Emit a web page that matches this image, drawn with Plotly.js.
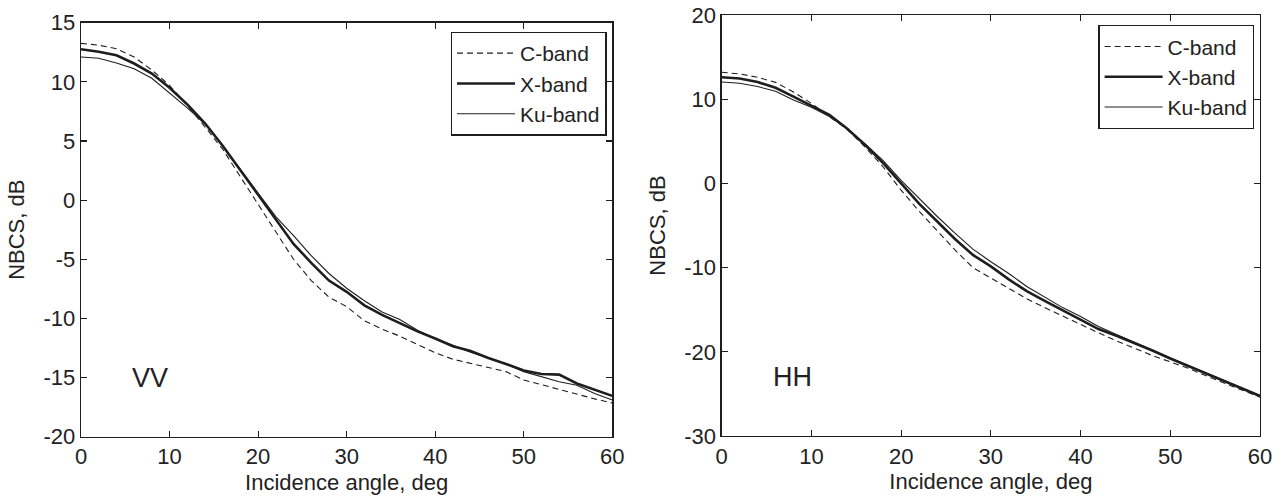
<!DOCTYPE html>
<html>
<head>
<meta charset="utf-8">
<script src="https://cdn.plot.ly/plotly-3.0.1.min.js"></script>
<style>html,body{margin:0;padding:0;background:#fff;}#chart{width:1283px;height:496px;}</style>
</head>
<body>
<div id="chart"></div>
<script>
// Incidence angles, deg
const angle = [0,2,4,6,8,10,12,14,16,18,20,22,24,26,28,30,32,34,36,38,40,42,44,46,48,50,52,54,56,58,60];

// VV polarisation, NBCS dB
const vvC  = [13.25,13.1,12.8,12.1,11.0,9.7,8.0,6.2,4.3,2.0,-0.4,-2.7,-5.0,-6.8,-8.2,-9.0,-10.2,-10.9,-11.5,-12.2,-12.9,-13.45,-13.8,-14.1,-14.5,-15.2,-15.6,-16.0,-16.45,-16.8,-17.15];
const vvX  = [12.75,12.55,12.25,11.55,10.7,9.5,8.1,6.5,4.6,2.5,0.5,-1.7,-3.7,-5.3,-6.8,-7.75,-8.9,-9.7,-10.4,-11.1,-11.7,-12.35,-12.75,-13.35,-13.85,-14.4,-14.7,-14.75,-15.5,-16.05,-16.55];
const vvKu = [12.1,12.0,11.6,11.1,10.3,9.05,7.8,6.45,4.6,2.6,0.6,-1.4,-3.0,-4.7,-6.2,-7.45,-8.5,-9.45,-10.1,-11.0,-11.7,-12.3,-12.85,-13.35,-13.85,-14.5,-14.9,-15.35,-15.65,-16.35,-16.9];

// HH polarisation, NBCS dB
const hhC  = [13.2,13.0,12.6,12.0,10.85,9.5,7.95,6.4,4.3,1.95,-0.8,-3.3,-5.6,-7.9,-10.0,-11.25,-12.55,-13.7,-14.75,-15.75,-16.8,-17.75,-18.7,-19.6,-20.45,-21.2,-21.95,-22.85,-23.7,-24.6,-25.4];
const hhX  = [12.6,12.45,12.05,11.35,10.3,9.2,8.15,6.5,4.55,2.4,0.0,-2.4,-4.5,-6.6,-8.5,-9.85,-11.4,-12.8,-13.95,-15.1,-16.2,-17.3,-18.1,-18.95,-19.85,-20.8,-21.7,-22.6,-23.5,-24.35,-25.25];
const hhKu = [12.05,11.9,11.5,10.95,9.9,9.05,7.95,6.5,4.7,2.7,0.35,-1.8,-3.9,-5.9,-7.8,-9.3,-10.7,-12.25,-13.5,-14.75,-15.8,-17.0,-17.95,-18.85,-19.8,-20.75,-21.65,-22.55,-23.45,-24.3,-25.2];

// Tick values and labels (hyphen minus as in the original)
const xTickVals = [0,10,20,30,40,50,60];
const xTickText = ['0','10','20','30','40','50','60'];
const vvTickVals = [-20,-15,-10,-5,0,5,10,15];
const vvTickText = ['-20','-15','-10','-5','0','5','10','15'];
const hhTickVals = [-30,-20,-10,0,10,20];
const hhTickText = ['-30','-20','-10','0','10','20'];

const bandNames = ['C-band','X-band','Ku-band'];
const panelLabels = ['VV','HH'];
const xTitle = 'Incidence angle, deg';
const yTitle = 'NBCS, dB';

const FONT = 'Arial, "Liberation Sans", sans-serif';
const INK = '#1e1e1e';
const TXT = '#222';
const FS = 22;
const styles = [
  {color: INK, width: 1.1, dash: '6px,4px'},
  {color: INK, width: 2.6, dash: 'solid'},
  {color: INK, width: 1.1, dash: 'solid'}
];

function mk(y, i, xa, ya, leg) {
  return {x: angle, y: y, type: 'scatter', mode: 'lines', name: bandNames[i],
          xaxis: xa, yaxis: ya, legend: leg, line: styles[i], hoverinfo: 'x+y'};
}

const data = [
  mk(vvC, 0, 'x', 'y', 'legend'), mk(vvX, 1, 'x', 'y', 'legend'), mk(vvKu, 2, 'x', 'y', 'legend'),
  mk(hhC, 0, 'x2', 'y2', 'legend2'), mk(hhX, 1, 'x2', 'y2', 'legend2'), mk(hhKu, 2, 'x2', 'y2', 'legend2')
];

const W = 1283, H = 496;
function axBase() {
  return {
    showline: true, linecolor: INK, linewidth: 1.3, mirror: 'ticks',
    ticks: 'inside', ticklen: 6, tickwidth: 1.1, tickcolor: INK,
    showgrid: false, zeroline: false, tickmode: 'array',
    tickfont: {family: FONT, size: FS, color: TXT}
  };
}
function ttl(t, so) { return {text: t, font: {family: FONT, size: FS, color: TXT}, standoff: so}; }

const xa1 = Object.assign(axBase(), {domain: [81/W, 612.3/W], range: [0, 60], anchor: 'y',
  tickvals: xTickVals, ticktext: xTickText, title: ttl(xTitle, 6)});
const ya1 = Object.assign(axBase(), {domain: [(H-436.7)/H, (H-22.7)/H], range: [-20, 15], anchor: 'x',
  tickvals: vvTickVals, ticktext: vvTickText, title: ttl(yTitle, 12)});
const xa2 = Object.assign(axBase(), {domain: [721.7/W, 1260/W], range: [0, 60], anchor: 'y2',
  tickvals: xTickVals, ticktext: xTickText, title: ttl(xTitle, 6)});
const ya2 = Object.assign(axBase(), {domain: [(H-436)/H, (H-15)/H], range: [-30, 20], anchor: 'x2',
  tickvals: hhTickVals, ticktext: hhTickText, title: ttl(yTitle, 12)});

function legendCfg(xr, yt) {
  return {x: xr, y: yt, xanchor: 'right', yanchor: 'top', bgcolor: '#fff',
          bordercolor: INK, borderwidth: 1.3, font: {family: FONT, size: 21, color: TXT},
          tracegroupgap: 0, itemwidth: 58};
}

const layout = {
  width: W, height: H,
  margin: {l: 0, r: 0, t: 0, b: 0},
  paper_bgcolor: '#fff', plot_bgcolor: '#fff',
  showlegend: true,
  xaxis: xa1, yaxis: ya1, xaxis2: xa2, yaxis2: ya2,
  legend: legendCfg(606.7/W, (H-31.7)/H),
  legend2: legendCfg(1254.3/W, (H-25)/H),
  annotations: [
    {text: panelLabels[0], xref: 'x', yref: 'y', x: 5.5, y: -15.05, xanchor: 'left', yanchor: 'middle',
     showarrow: false, font: {family: FONT, size: 27, color: TXT}},
    {text: panelLabels[1], xref: 'x2', yref: 'y2', x: 5.5, y: -23.0, xanchor: 'left', yanchor: 'middle',
     showarrow: false, font: {family: FONT, size: 27, color: TXT}}
  ]
};

Plotly.newPlot('chart', data, layout, {displayModeBar: false, staticPlot: true});
</script>
</body>
</html>
